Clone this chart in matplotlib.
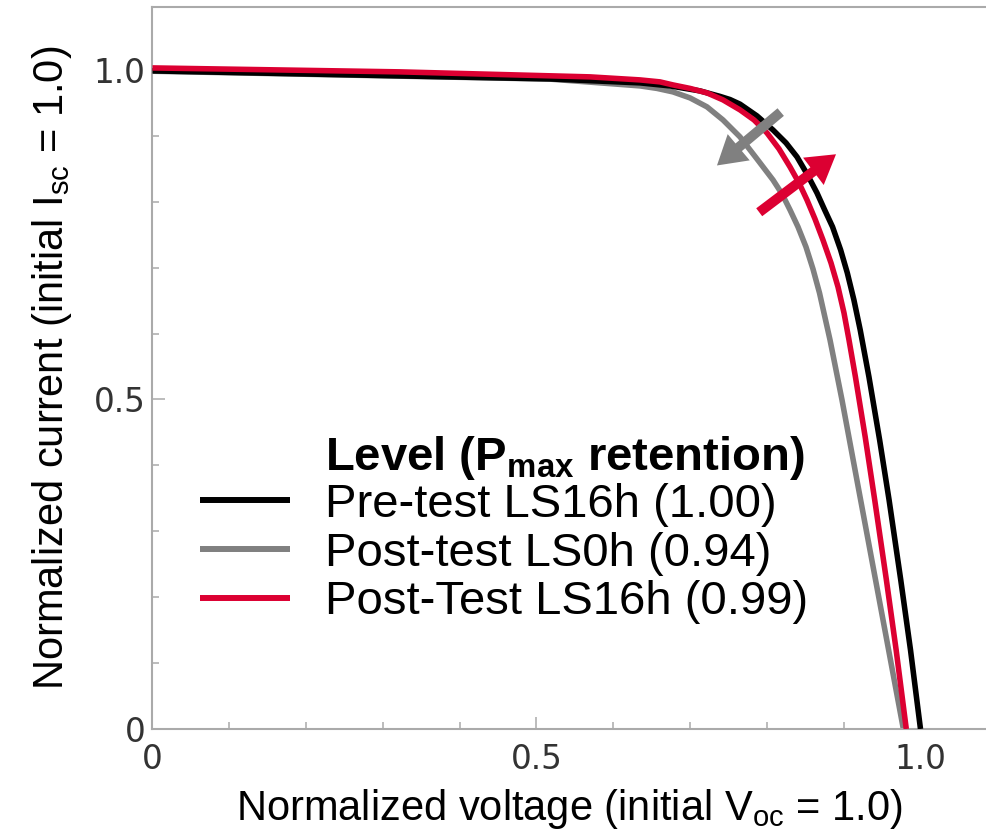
import matplotlib
matplotlib.use('Agg')
import matplotlib.pyplot as plt
from matplotlib.ticker import MultipleLocator, FixedLocator

plt.rcParams['font.family'] = 'Liberation Sans'
plt.rcParams['mathtext.fontset'] = 'custom'
plt.rcParams['mathtext.rm'] = 'Liberation Sans'
plt.rcParams['mathtext.it'] = 'Liberation Sans:italic'
plt.rcParams['mathtext.bf'] = 'Liberation Sans:bold'

# I-V curves (normalized voltage, normalized current)
v_pre = [0, 0.5176, 0.6348, 0.6738, 0.7129, 0.7389, 0.7520, 0.7650, 0.7871, 0.8079,
         0.8249, 0.8392, 0.8522, 0.8652, 0.8752, 0.8855, 0.8960, 0.9047, 0.9133,
         0.9215, 0.9329, 0.9468, 0.9591, 0.9743, 0.9870, 1.0000]
i_pre = [0.9985, 0.9863, 0.9803, 0.9757, 0.9681, 0.9598, 0.9550, 0.9480, 0.9302, 0.9089,
         0.8892, 0.8680, 0.8422, 0.8134, 0.7876, 0.7618, 0.7269, 0.6920, 0.6510,
         0.6055, 0.5341, 0.4385, 0.3475, 0.2261, 0.1199, 0.0]

v_ls0 = [0, 0.5176, 0.6348, 0.6569, 0.6777, 0.6999, 0.7220, 0.7428, 0.7650, 0.7871,
         0.8079, 0.8197, 0.8301, 0.8405, 0.8509, 0.8600, 0.8685, 0.8752, 0.8822,
         0.8978, 0.9172, 0.9415, 0.9585, 0.9777]
i_ls0 = [0.9980, 0.9860, 0.9757, 0.9719, 0.9666, 0.9575, 0.9439, 0.9241, 0.8983, 0.8649,
         0.8331, 0.8118, 0.7876, 0.7618, 0.7314, 0.6980, 0.6616, 0.6267, 0.5903,
         0.4992, 0.3778, 0.2261, 0.1199, 0.0]

v_ls16 = [0, 0.3223, 0.5697, 0.6348, 0.6608, 0.6777, 0.6999, 0.7220, 0.7428, 0.7650,
          0.7832, 0.8001, 0.8158, 0.8301, 0.8418, 0.8522, 0.8626, 0.8730, 0.8835,
          0.8926, 0.9004, 0.9069, 0.9153, 0.9280, 0.9404, 0.9556, 0.9683, 0.9815]
i_ls16 = [1.0030, 0.9970, 0.9894, 0.9848, 0.9818, 0.9772, 0.9719, 0.9651, 0.9545, 0.9393,
          0.9241, 0.9044, 0.8801, 0.8528, 0.8285, 0.8027, 0.7739, 0.7420, 0.7071,
          0.6707, 0.6313, 0.5903, 0.5341, 0.4431, 0.3475, 0.2261, 0.1199, 0.0]

labels = ['Pre-test LS16h (1.00)', 'Post-test LS0h (0.94)', 'Post-Test LS16h (0.99)']
colors = ['#000000', '#808080', '#dc0032']

# arrows (tail, head) in data units
gray_arrow = [(0.818, 0.936), (0.735, 0.855)]
red_arrow = [(0.790, 0.784), (0.890, 0.872)]

fig = plt.figure(figsize=(9.87, 8.36), dpi=100)
ax = fig.add_axes([0.1545, 0.128, 0.8455, 0.8633])

l_ls0, = ax.plot(v_ls0, i_ls0, color=colors[1], lw=4, solid_capstyle='butt',
                 solid_joinstyle='round', zorder=2)
l_pre, = ax.plot(v_pre, i_pre, color=colors[0], lw=4, solid_capstyle='butt',
                 solid_joinstyle='round', zorder=3)
l_ls16, = ax.plot(v_ls16, i_ls16, color=colors[2], lw=4, solid_capstyle='butt',
                  solid_joinstyle='round', zorder=4)

for (tail, head), c in [(gray_arrow, colors[1]), (red_arrow, colors[2])]:
    ax.annotate('', xy=head, xytext=tail,
                arrowprops=dict(arrowstyle='simple,head_length=1.2,head_width=1.45,tail_width=0.42',
                                color=c, lw=0, shrinkA=0, shrinkB=0, mutation_scale=17),
                zorder=5)

ax.set_xlim(0, 1.0866)
ax.set_ylim(0, 1.095)

ax.xaxis.set_major_locator(FixedLocator([0, 0.5, 1.0]))
ax.yaxis.set_major_locator(FixedLocator([0, 0.5, 1.0]))
ax.xaxis.set_minor_locator(MultipleLocator(0.1))
ax.yaxis.set_minor_locator(MultipleLocator(0.1))
ax.set_xticklabels(['0', '0.5', '1.0'])
ax.set_yticklabels(['0', '0.5', '1.0'])

ax.tick_params(which='both', direction='in', color='#b0b0b0', width=1.2,
               labelsize=23.5, labelcolor='#333333', labelfontfamily='DejaVu Sans')
ax.tick_params(which='major', length=9)
ax.tick_params(which='minor', length=5)
ax.tick_params(axis='x', which='both', pad=10)
ax.tick_params(axis='y', which='both', pad=5)

for side in ['left', 'bottom', 'top']:
    ax.spines[side].set_color('#aaaaaa')
    ax.spines[side].set_linewidth(1.5)
ax.spines['right'].set_visible(False)

ax.set_xlabel(r'Normalized voltage (initial V$_{\mathrm{oc}}$ = 1.0)', fontsize=30, labelpad=8)
ax.set_ylabel(r'Normalized current (initial I$_{\mathrm{sc}}$ = 1.0)', fontsize=30, labelpad=14)

leg = ax.legend([l_pre, l_ls0, l_ls16], labels, loc='upper left',
                bbox_to_anchor=(200 / 987, 1 - 483 / 836), bbox_transform=fig.transFigure,
                frameon=False, fontsize=34, borderpad=0, borderaxespad=0,
                handlelength=1.9, handletextpad=0.74, labelspacing=0.1)
for h in leg.get_lines():
    h.set_linewidth(4.3)

fig.text(325 / 987, 1 - 470 / 836, r'Level (P$_{\mathbf{max}}$ retention)',
         fontsize=34, fontweight='bold', va='baseline', ha='left')

fig.savefig('out.png', dpi=100)
